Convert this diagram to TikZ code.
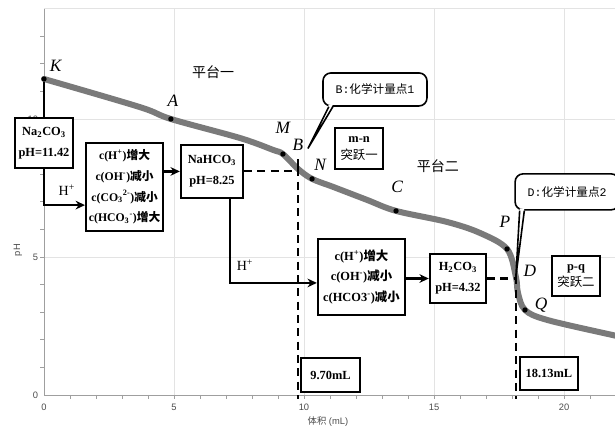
\documentclass[tikz,border=0pt]{standalone}
\usepackage{fontspec}
\setmainfont{Liberation Serif}
\setsansfont{Liberation Sans}
\newfontfamily\cjk{Noto Sans CJK SC}
\newfontfamily\monofont{Liberation Mono}
\usetikzlibrary{arrows.meta}
\newcommand{\zh}[1]{{\cjk #1}}
\tikzset{
  box/.style={draw, line width=1.7pt, fill=white, align=center, inner sep=1pt,
    font=\fontsize{9.3}{15.5}\selectfont\bfseries},
  flow/.style={line width=1.7pt, -{Stealth[length=7pt,width=6.5pt]}},
  link/.style={line width=1.7pt},
  guide/.style={line width=1.6pt, dash pattern=on 6pt off 4pt},
  callout/.style={draw, line width=1.2pt, rounded corners=6pt, fill=white,
    minimum width=78pt, font=\fontsize{8.7}{10}\selectfont},
  dot/.style={circle, fill=black, inner sep=0pt, minimum size=4pt},
  ptlabel/.style={font=\fontsize{13}{13}\selectfont\itshape},
  ticklabel/.style={font=\sffamily\fontsize{7}{7}\selectfont, text=black!70},
}
\begin{document}
\begin{tikzpicture}[x=19.5pt, y=20.7pt]
  \useasboundingbox (-1.6923,-1.2681) rectangle (21.9615,14.3116);
  % grid and axes
  \foreach \i in {5,10,15,20}
    \draw[gray!22, line width=0.6pt] (\i,0) -- (\i,14);
  \foreach \j in {5,10,14}
    \draw[gray!22, line width=0.6pt] (0,\j) -- (22.5,\j);
  \draw[gray!75, line width=0.7pt] (0,0) -- (22.5,0);
  \draw[gray!75, line width=0.7pt] (0,0) -- (0,14);
  \foreach \i in {1,...,22}
    \draw[gray!75, line width=0.6pt] (\i,0) -- (\i,-0.13);
  \foreach \j in {1,...,13}
    \draw[gray!75, line width=0.6pt] (0,\j) -- (-0.15,\j);
  \foreach \i in {0,5,10,15,20}
    \node[ticklabel] (x\i) at (\i,-0.45) {\i};
  \foreach \j in {0,5,10}
    \node[ticklabel, anchor=east] (y\j) at (-0.05,\j) {\j};
  \node[ticklabel, rotate=90] (ylab) at (-1.0,5.25) {pH};
  \node[ticklabel] (xlab) at (10.92,-0.98) {\zh{体积} (mL)};

  % titration curve
  \draw[black!52, line width=4.5pt, line cap=round]
    plot[smooth, tension=0.55] coordinates {
      (0,11.45) (3.69,10.43) (4.88,10.0) (7.54,9.31) (8.81,8.88)
      (9.19,8.73) (9.77,8.19) (10.31,7.83) (11.12,7.54) (12.42,7.07)
      (13.54,6.67) (15.5,6.27) (16.77,5.87) (17.81,5.29) (18.15,4.28)
      (18.23,3.70) (18.5,3.08) (19.35,2.72) (21.88,2.17) (22.5,2.05)};

  % points on the curve
  \node[dot] (k) at (0,11.45) {};
  \node[dot] (a) at (4.88,10.0) {};
  \node[dot] (m) at (9.19,8.73) {};
  \coordinate (b) at (9.76,8.21);
  \node[dot] (n) at (10.31,7.83) {};
  \node[dot] (c) at (13.54,6.67) {};
  \node[dot] (p) at (17.81,5.29) {};
  \coordinate (d) at (18.15,4.30);
  \node[dot] (q) at (18.5,3.08) {};
  \node[ptlabel] (klab) at (0.45,11.92) {K};
  \node[ptlabel] (alab) at (4.96,10.65) {A};
  \node[ptlabel] (mlab) at (9.19,9.67) {M};
  \node[ptlabel] (blab) at (9.77,9.06) {B};
  \node[ptlabel] (nlab) at (10.62,8.33) {N};
  \node[ptlabel] (clab) at (13.58,7.54) {C};
  \node[ptlabel] (plab) at (17.73,6.27) {P};
  \node[ptlabel] (dlab) at (18.69,4.49) {D};
  \node[ptlabel] (qlab) at (19.12,3.26) {Q};

  \node[font=\fontsize{10.5}{12}\selectfont] (plat1) at (6.5,11.7) {\zh{平台一}};
  \node[font=\fontsize{10.5}{12}\selectfont] (plat2) at (15.15,8.30) {\zh{平台二}};

  % boxes
  \node[box, minimum width=44pt, minimum height=37.5pt] (na) at (0,9.13)
    {Na\textsubscript{2}CO\textsubscript{3}\\pH=11.42};
  \node[box, minimum width=57.75pt, minimum height=66pt,
    font=\fontsize{8.8}{15.5}\selectfont\bfseries] (ratio1) at (3.10,7.54)
    {c(H\textsuperscript{+})\zh{增大}\\c(OH\textsuperscript{-})\zh{减小}\\
     c(CO\textsubscript{3}\textsuperscript{2-})\zh{减小}\\c(HCO\textsubscript{3}\textsuperscript{-})\zh{增大}};
  \node[box, minimum width=46.5pt, minimum height=39.75pt] (nahco) at (6.46,8.10)
    {NaHCO\textsubscript{3}\\pH=8.25};
  \node[box, minimum width=65.25pt, minimum height=57pt] (ratio2) at (12.21,4.28)
    {c(H\textsuperscript{+})\zh{增大}\\c(OH\textsuperscript{-})\zh{减小}\\c(HCO3\textsuperscript{-})\zh{减小}};
  \node[box, minimum width=42pt, minimum height=36.75pt] (hco) at (15.92,4.22)
    {H\textsubscript{2}CO\textsubscript{3}\\pH=4.32};
  \node[box, minimum width=44.25pt, minimum height=25.5pt] (vol1) at (11.02,0.72) {9.70mL};
  \node[box, minimum width=43.5pt, minimum height=24.75pt] (vol2) at (19.42,0.78) {18.13mL};
  \node[box, minimum width=36pt, minimum height=30.75pt] (jump1) at (12.12,8.93)
    {m-n\\[-3pt]\mdseries\zh{突跃一}};
  \node[box, minimum width=36pt, minimum height=30pt] (jump2) at (20.46,4.31)
    {p-q\\[-3pt]\mdseries\zh{突跃二}};

  % connectors
  \coordinate (h1) at (0,6.88);
  \coordinate (h2) at (7.15,4.06);
  \draw[link] (k) -- (na.north);
  \draw[flow] (na.south) |- (h1 -| ratio1.west);
  \node[font=\fontsize{10.5}{11}\selectfont] (hplus1) at (0.88,7.43) {H\textsuperscript{+}};
  \draw[flow] (ratio1.east |- nahco) -- (nahco.west);
  \draw[guide] (nahco.east) -- (nahco.east -| b);
  \draw[link] ([yshift=7pt]b) -- ([yshift=-5pt]b);
  \draw[guide] (b) -- (b |- x10.north);
  \draw[flow] (h2 |- nahco.south) |- (h2 -| ratio2.west);
  \node[font=\fontsize{10.5}{11}\selectfont] (hplus2) at (7.73,4.71) {H\textsuperscript{+}};
  \draw[flow] (ratio2.east |- hco) -- (hco.west);
  \draw[guide] (hco.east) -- (hco.east -| d);
  \draw[guide] (d) -- (d |- x15.north);

  % callouts
  \node[callout, minimum height=24.75pt] (bcall) at (12.73,11.07)
    {{\monofont B:}\zh{化学计量点}{\monofont 1}};
  \coordinate (btip) at (10.15,8.93);
  \fill[white] ([xshift=5pt,yshift=1.5pt]bcall.south west) -- (btip)
    -- ([xshift=8pt,yshift=1.5pt]bcall.south west) -- cycle;
  \draw[line width=1.2pt] ([xshift=5pt]bcall.south west) -- (btip)
    -- ([xshift=8pt]bcall.south west);
  \node[callout, minimum height=27pt] (dcall) at (20.12,7.36)
    {{\monofont D:}\zh{化学计量点}{\monofont 2}};
  \fill[white] ([xshift=4pt,yshift=1.5pt]dcall.south west) -- (d)
    -- ([xshift=7.5pt,yshift=1.5pt]dcall.south west) -- cycle;
  \draw[line width=1.2pt] ([xshift=4pt]dcall.south west) -- (d)
    -- ([xshift=7.5pt]dcall.south west);
\end{tikzpicture}
\end{document}
